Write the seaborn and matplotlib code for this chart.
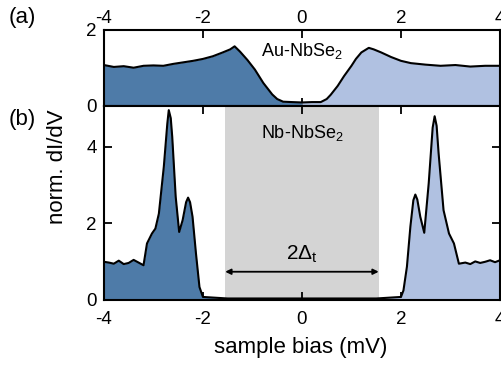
import numpy as np
import pandas as pd
import matplotlib
matplotlib.use("Agg")
import matplotlib.pyplot as plt
import seaborn as sns

# ---- data ----
au_bias = [-4.0, -3.8, -3.6, -3.4, -3.2, -3.0, -2.8, -2.6, -2.4, -2.2, -2.0, -1.8, -1.6,
           -1.45, -1.36, -1.25, -1.1, -0.95, -0.78, -0.6, -0.5, -0.38, -0.2, 0.0,
           0.2, 0.38, 0.5, 0.58, 0.72, 0.85, 1.0, 1.09, 1.2, 1.35, 1.45, 1.6, 1.8,
           2.0, 2.2, 2.5, 2.8, 3.1, 3.4, 3.7, 4.0]
au_didv = [1.07, 1.02, 1.04, 1.00, 1.05, 1.06, 1.05, 1.10, 1.14, 1.18, 1.23, 1.30, 1.40,
           1.48, 1.56, 1.42, 1.20, 0.95, 0.60, 0.30, 0.18, 0.11, 0.10, 0.09,
           0.10, 0.10, 0.18, 0.29, 0.52, 0.78, 1.05, 1.23, 1.40, 1.52, 1.48, 1.40, 1.28,
           1.18, 1.12, 1.08, 1.05, 1.07, 1.03, 1.05, 1.05]

nb_bias = [-4.0, -3.9, -3.8, -3.7, -3.6, -3.5, -3.4, -3.3, -3.2, -3.13, -3.03, -2.96,
           -2.89, -2.79, -2.72, -2.69, -2.65, -2.62, -2.55, -2.48, -2.41, -2.34, -2.30,
           -2.26, -2.21, -2.14, -2.07, -2.0, -1.5, -1.0, -0.5, 0.0, 0.5, 1.0, 1.5, 2.0,
           2.05, 2.12, 2.19, 2.25, 2.29, 2.33, 2.39, 2.47, 2.56, 2.64, 2.68, 2.72, 2.76,
           2.86, 2.97, 3.07, 3.17, 3.3, 3.4, 3.5, 3.6, 3.7, 3.8, 3.9, 4.0]
nb_didv = [0.99, 0.97, 0.94, 1.02, 0.93, 0.96, 1.04, 0.97, 0.90, 1.47, 1.73, 1.86,
           2.25, 3.48, 4.60, 4.96, 4.75, 4.26, 2.69, 1.77, 2.08, 2.55, 2.67,
           2.55, 2.17, 1.20, 0.33, 0.07, 0.03, 0.03, 0.03, 0.03, 0.03, 0.03, 0.03, 0.07,
           0.24, 0.86, 1.91, 2.60, 2.75, 2.62, 2.17, 1.75, 3.04, 4.50, 4.80, 4.55, 3.83,
           2.34, 1.73, 1.47, 0.94, 0.97, 0.93, 1.00, 0.96, 0.99, 1.03, 0.98, 1.03]

gap_edges = [-1.55, 1.55]
x_ticks = [-4, -2, 0, 2, 4]
top_yticks = [0, 2]
bot_yticks = [0, 2, 4]

dark = "#4e7ba8"
light = "#b0c1e1"
shade = "#d4d4d4"

sns.set_style("ticks")
plt.rcParams["font.family"] = ["Liberation Sans", "DejaVu Sans"]
plt.rcParams["mathtext.fontset"] = "custom"
plt.rcParams["mathtext.rm"] = "Liberation Sans"
plt.rcParams["mathtext.it"] = "Liberation Sans"
plt.rcParams["axes.unicode_minus"] = False
plt.rcParams["text.color"] = "black"
plt.rcParams["axes.edgecolor"] = "black"
plt.rcParams["xtick.color"] = "black"
plt.rcParams["ytick.color"] = "black"
plt.rcParams["axes.labelcolor"] = "black"

fig = plt.figure(figsize=(5.02, 3.69), dpi=100)
ax1 = fig.add_axes([0.207, 0.713, 0.789, 0.207])
ax2 = fig.add_axes([0.207, 0.188, 0.789, 0.525])

au = pd.DataFrame({"bias": au_bias, "didv": au_didv})
nb = pd.DataFrame({"bias": nb_bias, "didv": nb_didv})

def draw(ax, df):
    b = np.array(df["bias"]); d = np.array(df["didv"])
    ax.fill_between(b, 0, d, where=b <= 0, color=dark, lw=0, interpolate=True)
    ax.fill_between(b, 0, d, where=b >= 0, color=light, lw=0, interpolate=True)
    sns.lineplot(data=df, x="bias", y="didv", ax=ax, color="black", lw=1.5,
                 sort=False, estimator=None)

draw(ax1, au)
ax2.axvspan(gap_edges[0], gap_edges[1], color=shade, lw=0, zorder=0)
draw(ax2, nb)

for ax in (ax1, ax2):
    ax.set_xlim(-4, 4)
    ax.set_xticks(x_ticks)
    ax.set_xlabel(""); ax.set_ylabel("")
    ax.tick_params(direction="in", length=6, width=1.3, labelsize=13.5,
                   top=True, bottom=True, left=True, right=True, pad=5,
                   colors="black")
    for s in ax.spines.values():
        s.set_linewidth(1.5)
        s.set_color("black")
        s.set_visible(True)

ax1.set_ylim(0, 2)
ax1.set_yticks(top_yticks)
ax1.tick_params(axis="x", labeltop=True, labelbottom=False, pad=2)
ax2.set_ylim(0, 5.07)
ax2.set_yticks(bot_yticks)
ax2.tick_params(axis="x", pad=8)

ax1.text(0, 1.44, "Au-NbSe$_2$", ha="center", va="center", fontsize=13)
ax2.text(0, 4.37, "Nb-NbSe$_2$", ha="center", va="center", fontsize=13)
ax2.annotate("", xy=(gap_edges[0], 0.73), xytext=(gap_edges[1], 0.73),
             arrowprops=dict(arrowstyle="<|-|>", color="black", lw=1.3,
                             mutation_scale=8, shrinkA=0, shrinkB=0))
ax2.text(0, 1.18, r"2$\Delta_\mathregular{t}$", ha="center", va="center", fontsize=15)

fig.text(0.599, 0.057, "sample bias (mV)", ha="center", va="center", fontsize=16)
fig.text(0.114, 0.548, "norm. dI/dV", rotation=90, ha="center", va="center", fontsize=16)
fig.text(0.018, 0.953, "(a)", ha="left", va="center", fontsize=16)
fig.text(0.018, 0.677, "(b)", ha="left", va="center", fontsize=16)

fig.savefig("out.png", dpi=100)
